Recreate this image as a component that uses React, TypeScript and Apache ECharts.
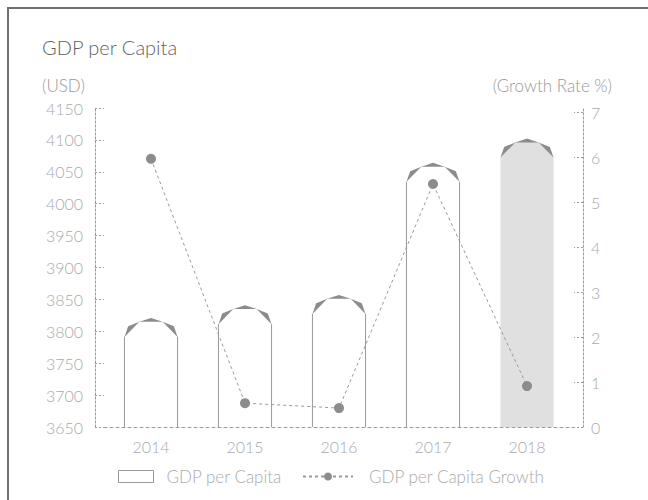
import { useEffect, useRef } from "react";
import * as echarts from "echarts";

const years = ["2014", "2015", "2016", "2017", "2018"];
const gdpPerCapita = [3821, 3841, 3857, 4064, 4102];
const growthRate = [5.96, 0.53, 0.42, 5.4, 0.91];
const highlightYear = "2018";

const FONT = "Lato, 'Noto Sans', sans-serif";
const LABEL = "#aaa";
const AXIS = "#999";
const W = 300;

export default function App() {
  const ref = useRef<HTMLDivElement>(null);

  useEffect(() => {
    document.documentElement.style.overflow = "hidden";
    document.body.style.overflow = "hidden";
    const chart = echarts.init(ref.current as HTMLDivElement, null, { renderer: "svg" });
    const CAP = 19;

    const renderBar = (params: any, api: any) => {
      const idx = api.value(0);
      const val = api.value(1);
      const top = api.coord([idx, val]);
      const base = api.coord([idx, 3650]);
      const band = api.size([1, 0])[0];
      const w = band * 0.565;
      const x0 = top[0] - w / 2;
      const ys = top[1] + CAP;
      const yb = base[1];
      const hl = years[idx] === highlightYear;
      const fill = hl ? "#e0e0e0" : "#ffffff";
      const P = (fx: number, fy: number) => [x0 + fx * w, ys - fy * CAP];
      const p0 = P(0, 0), p1 = P(0.07, 0.56), p2 = P(0.28, 0.8), p3 = P(0.5, 1),
        p4 = P(0.72, 0.8), p5 = P(0.93, 0.56), p6 = P(1, 0);
      const children: any[] = [
        { type: "polygon", shape: { points: [p0, p1, p2, p3, p4, p5, p6] }, style: { fill: "#8c8c8c" } },
        { type: "polygon", shape: { points: [[x0, yb], p0, p2, p4, p6, [x0 + w, yb]] }, style: { fill } },
      ];
      if (!hl) {
        children.push(
          { type: "line", shape: { x1: x0, y1: ys, x2: x0, y2: yb }, style: { stroke: "#9a9a9a", lineWidth: 1 } },
          { type: "line", shape: { x1: x0 + w, y1: ys, x2: x0 + w, y2: yb }, style: { stroke: "#9a9a9a", lineWidth: 1 } }
        );
      }
      return { type: "group", children };
    };

    chart.setOption({
      animation: false,
      textStyle: { fontFamily: FONT, fontWeight: W },
      title: {
        text: "GDP per Capita",
        left: 42,
        top: 37,
        padding: 0,
        textStyle: { fontSize: 20, fontWeight: W, color: "#5f5f5f", fontFamily: FONT },
      },
      graphic: [
        { type: "line", silent: true, shape: { x1: 8, y1: 7, x2: 8, y2: 500 }, style: { stroke: "#707070", lineWidth: 2 } },
        { type: "line", silent: true, shape: { x1: 7, y1: 8, x2: 648, y2: 8 }, style: { stroke: "#707070", lineWidth: 2 } },
        { type: "text", left: 42, top: 77, style: { text: "(USD)", fontSize: 17, fontWeight: W, fill: "#999", fontFamily: FONT } },
        { type: "text", right: 36, top: 77, style: { text: "(Growth Rate %)", fontSize: 17, fontWeight: W, fill: "#999", fontFamily: FONT } },
      ],
      legend: [
        {
          left: 118,
          top: 468,
          padding: 0,
          itemWidth: 35,
          itemHeight: 12,
          selectedMode: false,
          textStyle: { color: LABEL, fontSize: 17, fontWeight: W, fontFamily: FONT, padding: [0, 0, 0, 8] },
          data: [{ name: "GDP per Capita", icon: "rect", itemStyle: { color: "#fff", borderColor: "#999", borderWidth: 1 } }],
        },
        {
          left: 302,
          top: 468,
          padding: 0,
          itemWidth: 50,
          itemHeight: 10,
          selectedMode: false,
          textStyle: { color: LABEL, fontSize: 17, fontWeight: W, fontFamily: FONT, padding: [0, 0, 0, 11] },
          data: [{ name: "GDP per Capita Growth" }],
        },
      ],
      grid: { left: 104, width: 470, top: 108, height: 319 },
      xAxis: {
        type: "category",
        data: years,
        axisLine: { lineStyle: { color: AXIS, type: [3, 3] } },
        axisTick: { show: false },
        axisLabel: { color: LABEL, fontSize: 16, fontWeight: W, margin: 11, fontFamily: FONT },
      },
      yAxis: [
        {
          type: "value",
          min: 3650,
          max: 4150,
          interval: 50,
          offset: 9,
          axisLine: { show: true, lineStyle: { color: AXIS, type: [2, 2] } },
          axisTick: { show: true, inside: true, length: 9, lineStyle: { color: AXIS, type: [2, 2] } },
          axisLabel: { color: LABEL, fontSize: 16, fontWeight: W, margin: 12, fontFamily: FONT, formatter: (v: number) => String(v) },
          splitLine: { show: false },
        },
        {
          type: "value",
          min: 0,
          max: 7.09,
          interval: 1,
          offset: 9,
          axisLine: { show: true, lineStyle: { color: AXIS, type: [2, 2] } },
          axisTick: { show: true, inside: true, length: 9, lineStyle: { color: AXIS, type: [2, 2] } },
          axisLabel: { color: LABEL, fontSize: 16, fontWeight: W, margin: 8, fontFamily: FONT, showMaxLabel: false },
          splitLine: { show: false },
        },
      ],
      series: [
        {
          name: "GDP per Capita",
          type: "custom",
          renderItem: renderBar,
          encode: { x: 0, y: 1 },
          data: gdpPerCapita.map((v, i) => [i, v]),
          itemStyle: { color: "#fff", borderColor: "#999" },
          z: 2,
        },
        {
          name: "GDP per Capita Growth",
          type: "line",
          yAxisIndex: 1,
          data: growthRate,
          symbol: "circle",
          symbolSize: 10,
          itemStyle: { color: "#8c8c8c" },
          lineStyle: { color: "#999", width: 1, type: [3, 3] },
          z: 3,
        },
      ],
    });
    return () => chart.dispose();
  }, []);

  return <div ref={ref} style={{ position: "absolute", left: 0, top: 0, width: 648, height: 500 }} />;
}
